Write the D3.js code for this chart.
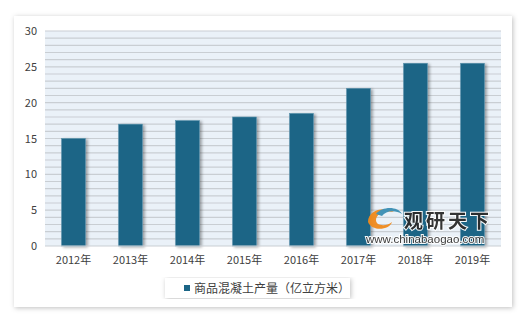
<!DOCTYPE html>
<html>
<head>
<meta charset="utf-8">
<script src="https://cdn.jsdelivr.net/npm/d3@7"></script>
<style>
  body { margin: 0; background: #ffffff; }
  svg { display: block; }
</style>
</head>
<body>
<div id="viscontainer"></div>
<script>
const years = ["2012年", "2013年", "2014年", "2015年", "2016年", "2017年", "2018年", "2019年"];
const output = [15, 17, 17.5, 18, 18.5, 22, 25.5, 25.5];
const yTicks = [0, 5, 10, 15, 20, 25, 30];
const seriesName = "商品混凝土产量（亿立方米）";

const width = 520;
const height = 316;
const font = "'Noto Sans CJK SC', 'Noto Sans', sans-serif";

const svg = d3.select("#viscontainer")
  .append("svg")
  .attr("width", width)
  .attr("height", height);

const defs = svg.append("defs");

const cardShadow = defs.append("filter")
  .attr("id", "cardShadow")
  .attr("x", "-5%").attr("y", "-5%")
  .attr("width", "110%").attr("height", "110%");
cardShadow.append("feDropShadow")
  .attr("dx", 1).attr("dy", 1)
  .attr("stdDeviation", 2.5)
  .attr("flood-color", "#000")
  .attr("flood-opacity", 0.25);

const barShadow = defs.append("filter")
  .attr("id", "barShadow")
  .attr("x", "-30%").attr("y", "-10%")
  .attr("width", "160%").attr("height", "120%");
barShadow.append("feDropShadow")
  .attr("dx", 2).attr("dy", 1)
  .attr("stdDeviation", 1.5)
  .attr("flood-color", "#000")
  .attr("flood-opacity", 0.35);

// white card
svg.append("rect")
  .attr("x", 14).attr("y", 16)
  .attr("width", 498).attr("height", 291)
  .attr("fill", "#fff")
  .attr("filter", "url(#cardShadow)");

const margin = { left: 45, right: 501, top: 31, bottom: 246 };

const x = d3.scaleBand()
  .domain(years)
  .range([margin.left, margin.right])
  .paddingInner(0.58)
  .paddingOuter(0.29);

const y = d3.scaleLinear()
  .domain([0, 30])
  .range([margin.bottom, margin.top]);

// plot background
svg.append("rect")
  .attr("x", margin.left).attr("y", margin.top)
  .attr("width", margin.right - margin.left)
  .attr("height", margin.bottom - margin.top)
  .attr("fill", "#eaf1f8");

// grid lines every unit
svg.append("g")
  .selectAll("line")
  .data(d3.range(1, 31))
  .join("line")
  .attr("x1", margin.left).attr("x2", margin.right)
  .attr("y1", d => y(d)).attr("y2", d => y(d))
  .attr("stroke", "#c9ced3")
  .attr("stroke-width", 1.2);

// bars
svg.append("g")
  .selectAll("rect")
  .data(output)
  .join("rect")
  .attr("x", (d, i) => x(years[i]))
  .attr("y", d => y(d))
  .attr("width", x.bandwidth())
  .attr("height", d => y(0) - y(d))
  .attr("fill", "#1b6586")
  .attr("stroke", "#5d94ad")
  .attr("stroke-width", 0.6)
  .attr("filter", "url(#barShadow)");

// baseline
svg.append("line")
  .attr("x1", margin.left).attr("x2", margin.right)
  .attr("y1", y(0)).attr("y2", y(0))
  .attr("stroke", "#c9ced3");

// y axis
const yAxis = svg.append("g")
  .attr("transform", `translate(${margin.left},0)`)
  .call(d3.axisLeft(y).tickValues(yTicks).tickSize(0).tickPadding(8));
yAxis.select(".domain").remove();
yAxis.selectAll("text")
  .attr("font-family", font)
  .attr("font-size", 11)
  .attr("fill", "#404040");

// x axis
const xAxis = svg.append("g")
  .attr("transform", `translate(0,${margin.bottom})`)
  .call(d3.axisBottom(x).tickSize(0).tickPadding(10));
xAxis.select(".domain").remove();
xAxis.selectAll("text")
  .attr("font-family", font)
  .attr("font-size", 11)
  .attr("fill", "#404040");

// watermark
const wm = svg.append("g").attr("opacity", 0.95);
wm.append("path")
  .attr("d", "M368,222 C368,210 384,206 394,212 C386,210 376,213 376,220 C376,226 386,227 392,222 C390,230 372,232 368,222 Z")
  .attr("fill", "#f08a1c");
wm.append("path")
  .attr("d", "M376,214 C382,206 398,206 402,214 C396,210 386,210 382,216 Z")
  .attr("fill", "#3a8fb4");
wm.append("text")
  .attr("x", 404).attr("y", 228)
  .attr("font-family", font)
  .attr("font-size", 19)
  .attr("font-weight", "bold")
  .attr("fill", "#2b2b2b")
  .attr("stroke", "#fff")
  .attr("stroke-width", 2)
  .attr("paint-order", "stroke")
  .attr("letter-spacing", 3)
  .text("观研天下");
wm.append("text")
  .attr("x", 366).attr("y", 243)
  .attr("font-family", "'Liberation Sans', Arial, sans-serif")
  .attr("font-size", 11.5)
  .attr("fill", "#333")
  .attr("stroke", "#fff")
  .attr("stroke-width", 2)
  .attr("paint-order", "stroke")
  .text("www.chinabaogao.com");

// legend
const legend = svg.append("g");
legend.append("rect")
  .attr("x", 165).attr("y", 278)
  .attr("width", 185).attr("height", 20)
  .attr("fill", "#fff")
  .attr("filter", "url(#cardShadow)");
legend.append("rect")
  .attr("x", 184).attr("y", 285)
  .attr("width", 6).attr("height", 6)
  .attr("fill", "#1b6586");
legend.append("text")
  .attr("x", 194).attr("y", 292.5)
  .attr("font-family", font)
  .attr("font-size", 12)
  .attr("fill", "#404040")
  .text(seriesName);
</script>
</body>
</html>
